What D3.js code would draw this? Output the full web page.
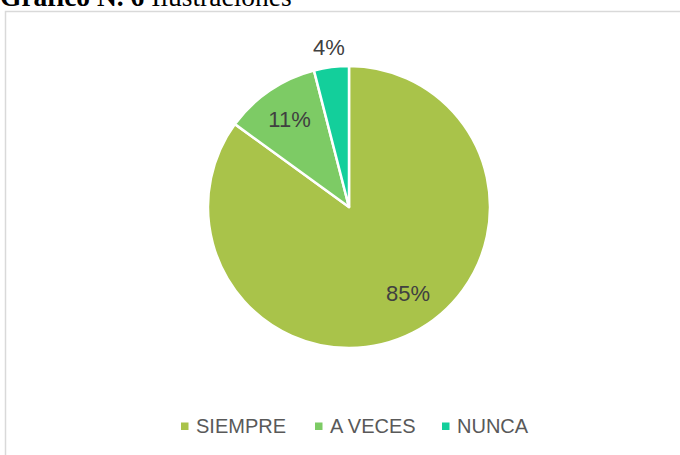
<!DOCTYPE html>
<html>
<head>
<meta charset="utf-8">
<script src="https://cdn.jsdelivr.net/npm/d3@7"></script>
<style>
  body { margin: 0; background: #fff; }
  svg { display: block; }
</style>
</head>
<body>
<div id="chart"></div>
<script>
var width = 680;
var height = 455;

var categories = ['SIEMPRE', 'A VECES', 'NUNCA'];
var values = [85, 11, 4];
var colors = ['#a9c34a', '#7dcb65', '#13cf9b'];

var svg = d3.select('#chart')
  .append('svg')
  .attr('width', width)
  .attr('height', height);

// chart area border
svg.append('rect')
  .attr('x', 5.5)
  .attr('y', 11.5)
  .attr('width', 700)
  .attr('height', 500)
  .attr('fill', '#fff')
  .attr('stroke', '#d9d9d9')
  .attr('stroke-width', 1.5);

// title (cut off at the top, as in the source)
var title = svg.append('text')
  .attr('x', 0)
  .attr('y', 6)
  .style('font-family', '"Liberation Serif", "Times New Roman", serif')
  .style('font-size', '27.5px')
  .attr('fill', '#000');
title.append('tspan').style('font-weight', 'bold').text('Gráfico N. 6 ');
title.append('tspan').text('Ilustraciones');

var cx = 349, cy = 207, radius = 141;

var pie = d3.pie().sort(null).value(function(d) { return d; });
var arcs = pie(values);

var arc = d3.arc().innerRadius(0).outerRadius(radius);
var labelArc = d3.arc().innerRadius(radius * 0.75).outerRadius(radius * 0.75);
var outerArc = d3.arc().innerRadius(radius * 1.14).outerRadius(radius * 1.14);

var g = svg.append('g').attr('transform', 'translate(' + cx + ',' + cy + ')');

g.selectAll('path')
  .data(arcs)
  .enter()
  .append('path')
  .attr('d', arc)
  .attr('fill', function(d, i) { return colors[i]; })
  .attr('stroke', '#fff')
  .attr('stroke-width', 2.5)
  .attr('stroke-linejoin', 'round');

g.selectAll('text.lbl')
  .data(arcs)
  .enter()
  .append('text')
  .attr('class', 'lbl')
  .attr('transform', function(d) {
    var c = d.data < 8 ? outerArc.centroid(d) : labelArc.centroid(d);
    // big slice: label sits a little closer to the slice's start, as Excel does
    if (d.data > 50) {
      var a = (d.startAngle + d.endAngle) / 2 - 0.13;
      c = [Math.sin(a) * radius * 0.74, -Math.cos(a) * radius * 0.74];
    }
    return 'translate(' + c + ')';
  })
  .attr('text-anchor', 'middle')
  .attr('dy', '0.35em')
  .style('font-family', '"Liberation Sans", Arial, sans-serif')
  .style('font-size', '22px')
  .attr('fill', '#404040')
  .text(function(d) { return d.data + '%'; });

// legend
var legendX = [181, 315, 442];
var legend = svg.selectAll('g.leg')
  .data(categories)
  .enter()
  .append('g')
  .attr('class', 'leg')
  .attr('transform', function(d, i) { return 'translate(' + legendX[i] + ',426)'; });

legend.append('rect')
  .attr('x', 0)
  .attr('y', -3.5)
  .attr('width', 7.5)
  .attr('height', 7.5)
  .attr('fill', function(d, i) { return colors[i]; });

legend.append('text')
  .attr('x', 15)
  .attr('dy', '0.35em')
  .style('font-family', '"Liberation Sans", Arial, sans-serif')
  .style('font-size', '20px')
  .attr('fill', '#595959')
  .text(function(d) { return d; });
</script>
</body>
</html>
